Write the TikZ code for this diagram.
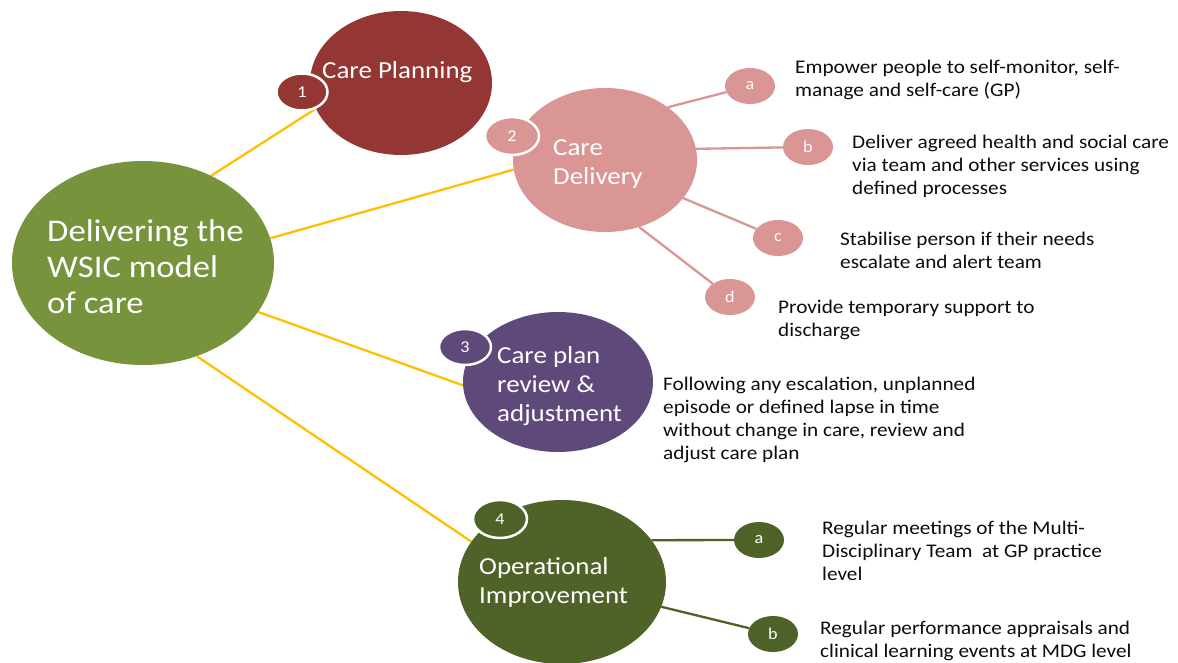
\documentclass[tikz,border=0pt]{standalone}
\usepackage{fontspec}
\setmainfont[FakeStretch=1.1]{Carlito}
\usetikzlibrary{shapes.geometric}

\definecolor{hubgreen}{HTML}{77933C}
\definecolor{planred}{HTML}{943634}
\definecolor{delpink}{HTML}{D99694}
\definecolor{revpurple}{HTML}{5F497A}
\definecolor{opgreen}{HTML}{4F6228}
\definecolor{linkgold}{HTML}{FFC000}
\definecolor{bodytext}{HTML}{0D0D0D}

\pgfdeclarelayer{paper}
\pgfdeclarelayer{wires}
\pgfsetlayers{paper,wires,main}

\begin{document}
\begin{tikzpicture}[x=1pt,y=-1pt,
  oval/.style n args={3}{ellipse, inner sep=0pt, draw=none, fill=#1,
    minimum width=#2pt, minimum height=#3pt},
  badge/.style n args={3}{ellipse, inner sep=0pt, fill=#1, draw=white,
    line width=2.5pt, minimum width=#2pt, minimum height=#3pt,
    text=white, font=\fontsize{16.5}{18}\selectfont},
  dot/.style={ellipse, inner sep=0pt, fill=#1, draw=none,
    minimum width=50pt, minimum height=36pt,
    text=white, font=\fontsize{16.5}{18}\selectfont},
  link/.style={draw=linkgold, line width=2.3pt},
  twig/.style={draw=#1, line width=2.3pt},
  intitle/.style={anchor=west, align=left, text=white, inner sep=0pt},
  note/.style={anchor=west, align=left, text=bodytext, inner sep=0pt,
    font=\fontsize{19.3}{23}\selectfont},
]
\begin{pgfonlayer}{paper}
\fill[white] (0,0) rectangle (1178,662);
\end{pgfonlayer}
\useasboundingbox (0,0) rectangle (1178,662);

% main bubbles
\node[oval={hubgreen}{262}{204}] (hub) at (143,263) {};
\node[oval={planred}{182}{144}] (plan) at (401,83) {};
\node[oval={delpink}{184}{144}] (deliv) at (605,160) {};
\node[oval={revpurple}{190}{140}] (rev) at (558,382) {};
\node[oval={opgreen}{208}{164}] (op) at (562,582) {};

% small lettered dots
\node[dot=delpink] (da) at (750,86) {a};
\node[dot=delpink] (db) at (808,147) {b};
\node[dot=delpink] (dc) at (778,238) {c};
\node[dot=delpink] (dd) at (730,297) {d};
\node[dot=opgreen] (oa) at (759,540) {a};
\node[dot=opgreen] (ob) at (773,634) {b};

% numbered badges
\node[badge={planred}{51}{37}] (n1) at (302,92) {1};
\node[badge={delpink}{54}{38}] (n2) at (512,136) {2};
\node[badge={revpurple}{52}{36}] (n3) at (465,347) {3};
\node[badge={opgreen}{54}{38}] (n4) at (500,519) {4};

% spokes and twigs, kept behind the bubbles
\begin{pgfonlayer}{wires}
\draw[link] (hub.52) -- (n1.-54);
\draw[link] (hub.11) -- (deliv.186);
\draw[link] (hub.-23) -- (rev.182);
\draw[link] (hub.-60) -- (op.156);
\draw[twig=delpink] (deliv.40) -- (da);
\draw[twig=delpink] (deliv.7) -- (db);
\draw[twig=delpink] (deliv.-26) -- (dc);
\draw[twig=delpink] (deliv.-63) -- (dd);
\draw[twig=opgreen] (op.25.5) -- (oa);
\draw[twig=opgreen] (op.-14.6) -- (ob);
\end{pgfonlayer}

% bubble titles
\node[intitle, font=\fontsize{31.5}{36}\selectfont] (thub) at (47,267)
  {Delivering the\\WSIC model\\of care};
\node[intitle, font=\fontsize{24.5}{29}\selectfont] (tplan) at (322,72)
  {Care Planning};
\node[intitle, font=\fontsize{24.5}{29}\selectfont] (tdeliv) at (553,164)
  {Care\\Delivery};
\node[intitle, font=\fontsize{24.5}{29}\selectfont] (trev) at (497,386)
  {Care plan\\review \&\\adjustment};
\node[intitle, font=\fontsize{24.5}{29}\selectfont] (top) at (479,582)
  {Operational\\Improvement};

% descriptions
\node[note] (xa) at (795,80) {Empower people to self-monitor, self-\\manage and self-care (GP)};
\node[note] (xb) at (852,166) {Deliver agreed health and social care\\via team and other services using\\defined processes};
\node[note] (xc) at (840,250) {Stabilise person if their needs\\escalate and alert team};
\node[note] (xd) at (778,320) {Provide temporary support to\\discharge};
\node[note] (xr) at (663,420) {Following any escalation, unplanned\\episode or defined lapse in time\\without change in care, review and\\adjust care plan};
\node[note] (xoa) at (822,551) {Regular meetings of the Multi-\\Disciplinary Team~~at GP practice\\level};
\node[note] (xob) at (820,641) {Regular performance appraisals and\\clinical learning events at MDG level};
\end{tikzpicture}
\end{document}
